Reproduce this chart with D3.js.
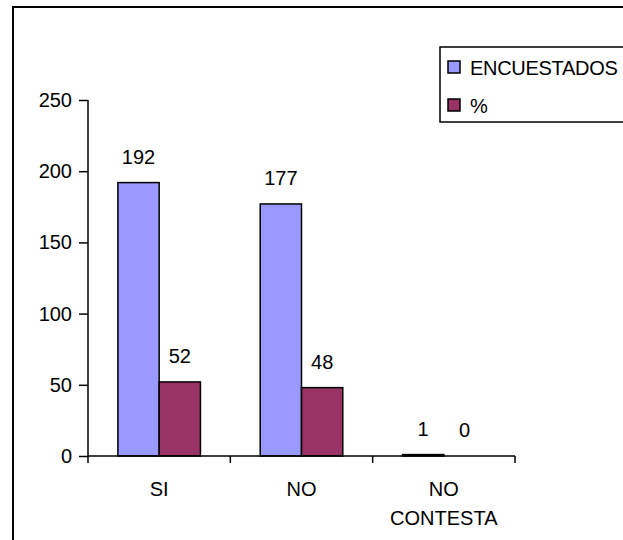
<!DOCTYPE html>
<html>
<head>
<meta charset="utf-8">
<script src="https://cdn.jsdelivr.net/npm/d3@7/dist/d3.min.js"></script>
<style>
  html, body { margin: 0; padding: 0; background: #fff; }
  svg { display: block; }
  text { font-family: "Liberation Sans", Arial, sans-serif; fill: #000; }
</style>
</head>
<body>
<svg id="chart" width="623" height="540"></svg>
<script>
// Survey answers: respondent counts and percentage per answer
const categories = [["SI"], ["NO"], ["NO", "CONTESTA"]];
const seriesNames = ["ENCUESTADOS", "%"];
const encuestados = [192, 177, 1];
const porcentaje = [52, 48, 0];
const yTicks = [0, 50, 100, 150, 200, 250];

const colors = ["#9999FF", "#993366"];
const svg = d3.select("#chart");

// outer chart frame (runs past the right and bottom edges)
svg.append("rect")
  .attr("x", 13).attr("y", 7)
  .attr("width", 640).attr("height", 560)
  .attr("fill", "#fff").attr("stroke", "#000").attr("stroke-width", 2);

const plotLeft = 88, plotRight = 515, plotTop = 100, plotBottom = 456;
const keys = categories.map(c => c.join(" "));

const x = d3.scaleBand().domain(keys).range([plotLeft, plotRight]).padding(0);
const y = d3.scaleLinear().domain([0, 250]).range([plotBottom, plotTop]);

const groupW = x.bandwidth() * 0.58;
const xs = d3.scaleBand().domain(seriesNames)
  .range([(x.bandwidth() - groupW) / 2, (x.bandwidth() + groupW) / 2]).padding(0);

const rows = keys.map((k, i) => ({ key: k, values: [encuestados[i], porcentaje[i]] }));

// bars
const groups = svg.append("g").selectAll("g").data(rows).join("g")
  .attr("transform", d => `translate(${x(d.key)},0)`);

groups.selectAll("rect").data(d => d.values.map((v, j) => ({ v, j })))
  .join("rect")
  .attr("x", d => xs(seriesNames[d.j]))
  .attr("y", d => y(d.v))
  .attr("width", xs.bandwidth())
  .attr("height", d => plotBottom - y(d.v))
  .attr("fill", d => colors[d.j])
  .attr("stroke", "#000").attr("stroke-width", 1.5);

// value labels above bars
groups.selectAll("text.val").data(d => d.values.map((v, j) => ({ v, j })))
  .join("text").attr("class", "val")
  .attr("x", d => xs(seriesNames[d.j]) + xs.bandwidth() / 2)
  .attr("y", d => y(d.v) - 19)
  .attr("text-anchor", "middle")
  .attr("font-size", 20)
  .text(d => d.v);

// y axis
const yAxis = svg.append("g")
  .attr("transform", `translate(${plotLeft},0)`)
  .call(d3.axisLeft(y).tickValues(yTicks).tickSize(9).tickPadding(7).tickSizeOuter(0));
yAxis.select(".domain").attr("stroke", "#000").attr("stroke-width", 1.5)
  .attr("d", `M0,${plotTop}V${plotBottom + 7}`);
yAxis.selectAll(".tick line").attr("stroke", "#000").attr("stroke-width", 1.5);
yAxis.selectAll(".tick text").attr("font-size", 20)
  .attr("font-family", "'Liberation Sans', Arial, sans-serif").attr("fill", "#000");

// x axis line with boundary ticks between categories
svg.append("line")
  .attr("x1", plotLeft).attr("x2", plotRight).attr("y1", plotBottom).attr("y2", plotBottom)
  .attr("stroke", "#000").attr("stroke-width", 1.5);
const bounds = keys.map(k => x(k)).concat([x(keys[keys.length - 1]) + x.bandwidth()]);
svg.append("g").selectAll("line").data(bounds.slice(1)).join("line")
  .attr("x1", d => d).attr("x2", d => d)
  .attr("y1", plotBottom).attr("y2", plotBottom + 7)
  .attr("stroke", "#000").attr("stroke-width", 1.5);

// category labels
svg.append("g").selectAll("text").data(categories).join("text")
  .attr("x", (d, i) => x(keys[i]) + x.bandwidth() / 2)
  .attr("y", 496)
  .attr("text-anchor", "middle")
  .attr("font-size", 20)
  .selectAll("tspan").data(d => d).join("tspan")
  .attr("x", function () { return d3.select(this.parentNode).attr("x"); })
  .attr("dy", (d, i) => i === 0 ? 0 : 29)
  .text(d => d);

// legend
const legend = svg.append("g");
legend.append("rect")
  .attr("x", 440).attr("y", 47).attr("width", 200).attr("height", 75)
  .attr("fill", "#fff").attr("stroke", "#000").attr("stroke-width", 1.5);
const items = legend.selectAll("g").data(seriesNames).join("g")
  .attr("transform", (d, i) => `translate(448,${61 + i * 38})`);
items.append("rect")
  .attr("width", 12).attr("height", 12)
  .attr("fill", (d, i) => colors[i])
  .attr("stroke", "#000").attr("stroke-width", 1.5);
items.append("text")
  .attr("x", 22).attr("y", 14)
  .attr("font-size", 20)
  .attr("letter-spacing", -0.3)
  .text(d => d);
</script>
</body>
</html>
